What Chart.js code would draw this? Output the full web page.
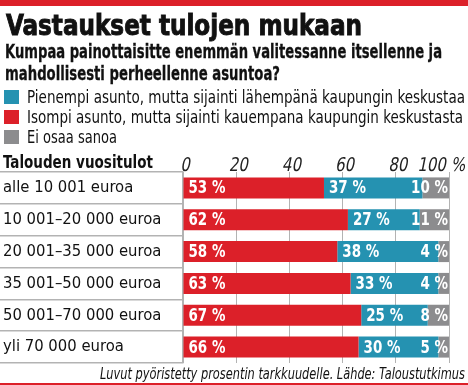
<!DOCTYPE html>
<html>
<head>
<meta charset="utf-8">
<script src="https://cdn.jsdelivr.net/npm/chart.js@4.4.0/dist/chart.umd.min.js"></script>
<style>
html, body { margin: 0; padding: 0; background: #fff; }
#wrap { position: relative; width: 468px; height: 385px; overflow: hidden; color: #111;
  font-family: 'Liberation Sans Narrow', 'DejaVu Sans Condensed', 'Liberation Sans', sans-serif; }
#chart { position: absolute; left: 0; top: 0; }
.t { position: absolute; white-space: nowrap; line-height: 1; transform-origin: left top; }
.box { position: absolute; left: 4px; width: 15px; height: 14px; }
#stripe { position: absolute; left: 0; top: 0; width: 468px; height: 6px; background: #dc2029; }
#rule { position: absolute; left: 0; top: 383px; width: 468px; height: 2px; background: #dc2029; }
</style>
</head>
<body>
<div id="wrap">
  <canvas id="chart" width="468" height="385"></canvas>
  <div id="stripe"></div>
  <div id="rule"></div>
  <div class="t" data-w="356" style="left:6px;top:12px;font-size:28px;font-weight:bold;-webkit-text-stroke:0.9px #111;">Vastaukset tulojen mukaan</div>
  <div class="t" data-w="437" style="left:5px;top:41px;font-size:20px;font-weight:bold;-webkit-text-stroke:0.3px #111;">Kumpaa painottaisitte enemmän valitessanne itsellenne ja</div>
  <div class="t" data-w="275" style="left:5px;top:63px;font-size:20px;font-weight:bold;-webkit-text-stroke:0.3px #111;">mahdollisesti perheellenne asuntoa?</div>

  <div class="box" style="top:90px;background:#2592b1;"></div>
  <div class="t" data-w="438" style="left:27px;top:88px;font-size:18px;">Pienempi asunto, mutta sijainti lähempänä kaupungin keskustaa</div>
  <div class="box" style="top:110px;background:#dc2029;"></div>
  <div class="t" data-w="436" style="left:27px;top:108px;font-size:18px;">Isompi asunto, mutta sijainti kauempana kaupungin keskustasta</div>
  <div class="box" style="top:130px;background:#8c8c8e;"></div>
  <div class="t" data-w="90" style="left:27px;top:128px;font-size:18px;">Ei osaa sanoa</div>

  <div class="t" data-w="150" style="left:3px;top:153px;font-size:18px;font-weight:bold;">Talouden vuositulot</div>
  <div class="t" id="foot" data-w="365" style="left:100px;top:366px;font-size:16px;font-style:italic;">Luvut pyöristetty prosentin tarkkuudelle. Lähde: Taloustutkimus</div>
</div>
<script>
// household income groups
var categories = ['alle 10 001 euroa', '10 001–20 000 euroa', '20 001–35 000 euroa',
                  '35 001–50 000 euroa', '50 001–70 000 euroa', 'yli 70 000 euroa'];
var isompi = [53, 62, 58, 63, 67, 66];     // bigger flat, further away
var pienempi = [37, 27, 38, 33, 25, 30];   // smaller flat, closer to centre
var eiOsaa = [10, 11, 4, 4, 8, 5];         // don't know
var xTicks = [0, 20, 40, 60, 80, 100];

var FONT = "'Liberation Sans Narrow', 'DejaVu Sans Condensed', 'Liberation Sans', sans-serif";
var RED = '#dc2029', BLUE = '#2592b1', GRAY = '#8c8c8e', LINE = '#b3b3b3';

// draw text squeezed horizontally (and optionally slanted)
function drawText(ctx, txt, x, y, align, sx, slant) {
  var w = ctx.measureText(txt).width * sx;
  var left = align === 'right' ? x - w : (align === 'center' ? x - w / 2 : x);
  ctx.save();
  ctx.translate(left, y);
  ctx.transform(sx, 0, -slant, 1, 0, 0);
  ctx.textAlign = 'left';
  ctx.fillText(txt, 0, 0);
  ctx.restore();
  return w;
}

var labelPlugin = {
  id: 'labels',
  afterDraw: function (chart) {
    var ctx = chart.ctx;
    var xs = chart.scales.x;
    var area = chart.chartArea;
    ctx.save();
    // axis tick labels on top, italic look
    ctx.font = '19px ' + FONT;
    ctx.fillStyle = '#222';
    ctx.textBaseline = 'alphabetic';
    xTicks.forEach(function (v) {
      var px = xs.getPixelForValue(v);
      var txt = v === 100 ? '100 %' : String(v);
      var w = ctx.measureText(txt).width * 0.88;
      var left = px - w / 2 + 2;
      if (left + w > chart.width - 3) left = chart.width - 3 - w;
      drawText(ctx, txt, left, 171, 'left', 0.88, 0.2);
    });
    // value labels inside bars
    ctx.font = 'bold 17px ' + FONT;
    ctx.fillStyle = '#fff';
    ctx.textBaseline = 'middle';
    chart.data.datasets.forEach(function (ds, di) {
      var meta = chart.getDatasetMeta(di);
      meta.data.forEach(function (bar, i) {
        var txt = ds.data[i] + ' %';
        if (di === 2) {
          drawText(ctx, txt, Math.min(bar.x, area.right) - 1, bar.y + 1, 'right', 0.88, 0);
        } else {
          drawText(ctx, txt, Math.min(bar.x, bar.base) + 5, bar.y + 1, 'left', 0.88, 0);
        }
      });
    });
    ctx.restore();
  }
};

var ctx = document.getElementById('chart').getContext('2d');
var chart = new Chart(ctx, {
  type: 'bar',
  data: {
    labels: categories,
    datasets: [
      { label: 'Isompi asunto, mutta sijainti kauempana kaupungin keskustasta', data: isompi, backgroundColor: RED },
      { label: 'Pienempi asunto, mutta sijainti lähempänä kaupungin keskustaa', data: pienempi, backgroundColor: BLUE },
      { label: 'Ei osaa sanoa', data: eiOsaa, backgroundColor: GRAY }
    ]
  },
  options: {
    indexAxis: 'y',
    responsive: false,
    animation: false,
    datasets: { bar: { barPercentage: 0.66, categoryPercentage: 1.0 } },
    layout: { padding: { top: 172, left: 3, right: 19, bottom: 22 } },
    plugins: { legend: { display: false }, tooltip: { enabled: false } },
    scales: {
      x: {
        stacked: true, position: 'top', min: 0, max: 100,
        ticks: { display: false, stepSize: 20 },
        grid: { color: LINE, lineWidth: 1, drawTicks: false },
        border: { display: false }
      },
      y: {
        stacked: true,
        ticks: { crossAlign: 'far', padding: 0, color: '#111', font: { family: FONT, size: 16.5 } },
        grid: { offset: true, drawOnChartArea: false, tickLength: 183, color: LINE, lineWidth: 1.5 },
        border: { display: true, color: LINE, width: 1.5 },
        afterFit: function (s) { s.width = 180; }
      }
    }
  },
  plugins: [labelPlugin]
});

// squeeze headline texts to the widths in the original
function fitTexts() {
  document.querySelectorAll('.t[data-w]').forEach(function (el) {
    el.style.transform = 'none';
    var nat = el.getBoundingClientRect().width;
    var target = parseFloat(el.getAttribute('data-w'));
    el.style.transform = 'scaleX(' + (target / nat) + ')';
  });
}
fitTexts();
if (document.fonts) document.fonts.ready.then(fitTexts);
</script>
</body>
</html>
